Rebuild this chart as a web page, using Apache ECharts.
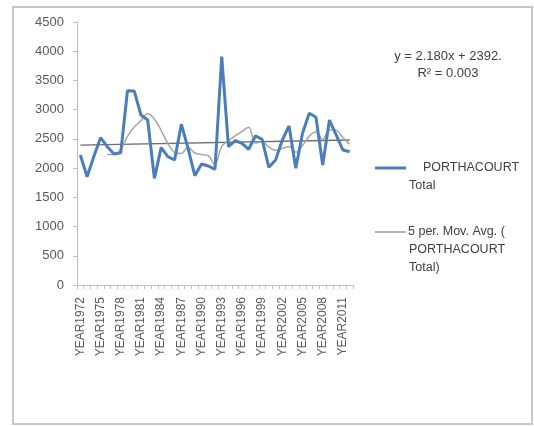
<!DOCTYPE html>
<html>
<head>
<meta charset="utf-8">
<script src="https://cdn.jsdelivr.net/npm/echarts@6/dist/echarts.min.js"></script>
<style>
html,body{margin:0;padding:0;background:#fff;}
#c{width:534px;height:426px;}
</style>
</head>
<body>
<div id="c"></div>
<script>
const years = [1972,1973,1974,1975,1976,1977,1978,1979,1980,1981,1982,1983,1984,1985,1986,1987,1988,1989,1990,1991,1992,1993,1994,1995,1996,1997,1998,1999,2000,2001,2002,2003,2004,2005,2006,2007,2008,2009,2010,2011,2012];
const categories = years.map(y => 'YEAR' + y);
const totals = [2224,1853,2200,2520,2367,2241,2264,3325,3320,2909,2823,1825,2350,2196,2139,2750,2339,1870,2070,2036,1980,3907,2367,2470,2424,2322,2550,2493,2014,2139,2481,2721,1997,2596,2938,2869,2053,2823,2567,2310,2281];
const movAvg = [null,null,null,null,2233,2236,2318,2543,2703,2812,2928,2840,2645,2421,2267,2252,2355,2259,2234,2213,2059,2373,2472,2552,2630,2698,2427,2452,2361,2304,2335,2370,2270,2387,2547,2624,2491,2656,2650,2524,2407];
const trendEnds = [2394, 2481];
const yTicks = {min: 0, max: 4500, interval: 500};
const equationText = ['y = 2.180x + 2392.', 'R\u00b2 = 0.003'];
const legendNames = ['PORTHACOURT Total', '5 per. Mov. Avg. ( PORTHACOURT Total)'];

const trendData = categories.map((c, i) => i === 0 ? trendEnds[0] : (i === categories.length - 1 ? trendEnds[1] : null));

const font = '"Liberation Sans", Arial, sans-serif';
const chart = echarts.init(document.getElementById('c'), null, {renderer: 'canvas'});
chart.setOption({
  animation: false,
  backgroundColor: '#fff',
  grid: {left: 77, right: 181, top: 22, bottom: 141, containLabel: false},
  xAxis: {
    type: 'category',
    data: categories,
    boundaryGap: true,
    axisLine: {lineStyle: {color: '#bfbfbf', width: 1}},
    axisTick: {show: true, interval: 0, length: 4, lineStyle: {color: '#bfbfbf'}},
    axisLabel: {interval: 2, rotate: 90, color: '#595959', fontSize: 12, fontFamily: font, margin: 12}
  },
  yAxis: {
    type: 'value',
    min: yTicks.min, max: yTicks.max, interval: yTicks.interval,
    splitLine: {show: false},
    axisLine: {show: true, lineStyle: {color: '#bfbfbf', width: 1}},
    axisTick: {show: true, length: 4, lineStyle: {color: '#bfbfbf'}},
    axisLabel: {color: '#595959', fontSize: 13, fontFamily: font, margin: 13, formatter: v => String(v)}
  },
  series: [
    {
      name: 'trend', type: 'line', data: trendData, connectNulls: true,
      symbol: 'none', lineStyle: {color: '#6e6e6e', width: 1.3}, z: 1
    },
    {
      name: legendNames[1], type: 'line', data: movAvg,
      symbol: 'none', smooth: 0.3, lineStyle: {color: '#a6a6a6', width: 1.5}, z: 2
    },
    {
      name: legendNames[0], type: 'line', data: totals,
      symbol: 'none', lineStyle: {color: '#4a7ebb', width: 3}, z: 3
    }
  ],
  graphic: [
    {type: 'rect', shape: {x: 13, y: 7, width: 519, height: 417}, style: {fill: 'none', stroke: '#c8c8c8', lineWidth: 2}, silent: true},
    {type: 'text', x: 448, y: 56, style: {text: equationText[0], fill: '#404040', font: '13px ' + font, textAlign: 'center', textVerticalAlign: 'middle'}},
    {type: 'text', x: 448, y: 73, style: {text: equationText[1], fill: '#404040', font: '13px ' + font, textAlign: 'center', textVerticalAlign: 'middle'}},
    {type: 'line', shape: {x1: 375, y1: 168, x2: 406, y2: 168}, style: {stroke: '#4a7ebb', lineWidth: 3}},
    {type: 'text', x: 423, y: 168, style: {text: 'PORTHACOURT', fill: '#404040', font: '12.5px ' + font, textVerticalAlign: 'middle'}},
    {type: 'text', x: 409, y: 186, style: {text: 'Total', fill: '#404040', font: '12.5px ' + font, textVerticalAlign: 'middle'}},
    {type: 'line', shape: {x1: 375, y1: 232, x2: 406, y2: 232}, style: {stroke: '#8c8c8c', lineWidth: 1.3}},
    {type: 'text', x: 408, y: 232, style: {text: '5 per. Mov. Avg. (', fill: '#404040', font: '12.5px ' + font, textVerticalAlign: 'middle'}},
    {type: 'text', x: 409, y: 250, style: {text: 'PORTHACOURT', fill: '#404040', font: '12.5px ' + font, textVerticalAlign: 'middle'}},
    {type: 'text', x: 409, y: 268, style: {text: 'Total)', fill: '#404040', font: '12.5px ' + font, textVerticalAlign: 'middle'}}
  ]
});
</script>
</body>
</html>
